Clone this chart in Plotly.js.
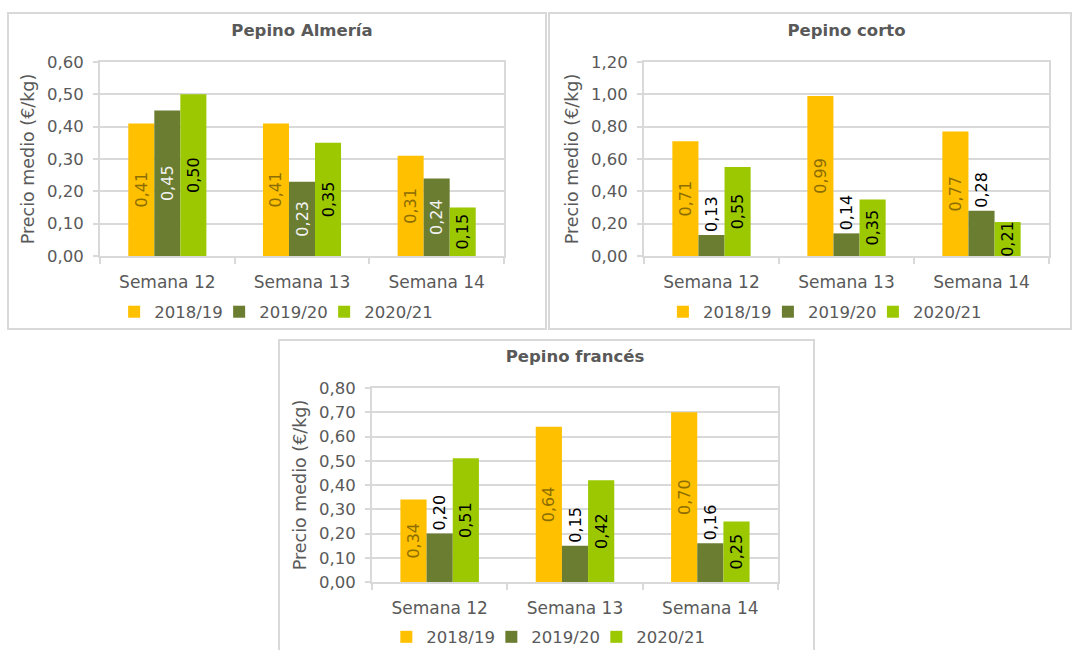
<!DOCTYPE html>
<html>
<head>
<meta charset="utf-8">
<script src="https://cdn.plot.ly/plotly-3.0.1.min.js"></script>
<style>
html,body{margin:0;padding:0;background:#fff;overflow:hidden;width:1073px;height:650px;}
.panel{position:absolute;box-sizing:border-box;border:2px solid #d9d9d9;background:#fff;}
</style>
</head>
<body>
<div id="p1" class="panel" style="left:7px;top:12px;width:540px;height:318px;"></div>
<div id="p2" class="panel" style="left:548px;top:12px;width:524px;height:318px;"></div>
<div id="p3" class="panel" style="left:278px;top:339px;width:537px;height:320px;"></div>
<script>
// ---- data ----
const categories = ["Semana 12", "Semana 13", "Semana 14"];
const seriesNames = ["2018/19", "2019/20", "2020/21"];

const almeria2018 = [0.41, 0.41, 0.31];
const almeria2019 = [0.45, 0.23, 0.24];
const almeria2020 = [0.50, 0.35, 0.15];

const corto2018 = [0.71, 0.99, 0.77];
const corto2019 = [0.13, 0.14, 0.28];
const corto2020 = [0.55, 0.35, 0.21];

const frances2018 = [0.34, 0.64, 0.70];
const frances2019 = [0.20, 0.15, 0.16];
const frances2020 = [0.51, 0.42, 0.25];

const titles = ["Pepino Almería", "Pepino corto", "Pepino francés"];
const yTitle = "Precio medio (€/kg)";

// ---- style ----
const FONT = "DejaVu Sans, Verdana, sans-serif";
const GRAY = "#595959";
const GRID = "#d9d9d9";
const barColors = ["#ffc000", "#6b7d31", "#9bc800"];

function makeTraces(vals, darkOutside) {
  const labelColors = ["#8c6d00", darkOutside ? "#000000" : "#f2f2f2", "#000000"];
  return vals.map((v, i) => ({
    type: "bar",
    name: seriesNames[i],
    x: categories,
    y: v,
    marker: {color: barColors[i], line: {width: 0}},
    texttemplate: "%{y:.2f}",
    textposition: (i === 1 && darkOutside) ? "outside" : "inside",
    insidetextanchor: "middle",
    textangle: -90,
    constraintext: "none",
    cliponaxis: false,
    textfont: {family: FONT, size: 16, color: labelColors[i]},
    hoverinfo: "skip"
  }));
}

function makeLayout(opt) {
  return {
    width: opt.w, height: opt.h,
    margin: {l: opt.l, r: opt.r, t: opt.t, b: opt.b, pad: 0},
    paper_bgcolor: "#fff", plot_bgcolor: "#fff",
    separators: ",.",
    barmode: "group", bargap: 0.42, bargroupgap: 0,
    font: {family: FONT, color: GRAY, size: 16},
    title: {
      text: "<b>" + opt.title + "</b>",
      font: {family: FONT, size: 16.5, color: GRAY},
      x: 0.5, xref: "paper", xanchor: "center",
      y: 1 - opt.titleY / opt.h, yref: "container", yanchor: "middle"
    },
    xaxis: {
      type: "category",
      showline: true, linecolor: GRID, linewidth: 2, mirror: true,
      ticks: "outside", tickson: "boundaries", ticklen: 6, tickcolor: GRID, tickwidth: 2,
      tickfont: {family: FONT, size: 17, color: GRAY},
      ticklabelstandoff: 10,
      showgrid: false, zeroline: false, fixedrange: true
    },
    yaxis: {
      range: [0, opt.ymax], dtick: opt.dtick, tickformat: ".2f",
      showline: true, linecolor: GRID, linewidth: 2, mirror: true,
      ticks: "outside", ticklen: 5, tickcolor: GRID, tickwidth: 2,
      tickfont: {family: FONT, size: 16.5, color: GRAY},
      ticklabelstandoff: 6,
      showgrid: true, gridcolor: GRID, gridwidth: 2,
      zeroline: false, fixedrange: true,
      title: {text: yTitle, font: {family: FONT, size: 17.5, color: GRAY}, standoff: 8}
    },
    showlegend: true,
    legend: {
      orientation: "h",
      xref: "container", yref: "container",
      x: opt.legX, xanchor: "center",
      y: opt.legY, yanchor: "middle",
      font: {family: FONT, size: 16.5, color: GRAY},
      itemwidth: 30, entrywidth: 60,
      traceorder: "normal", itemclick: false, itemdoubleclick: false
    }
  };
}

const config = {displayModeBar: false, staticPlot: true};

function unclipLegend(id) {
  document.querySelectorAll("#" + id + " .legend .scrollbox").forEach(el => el.removeAttribute("clip-path"));
}

Plotly.newPlot("p1", makeTraces([almeria2018, almeria2019, almeria2020], false),
  makeLayout({w: 536, h: 314, l: 91, r: 41, t: 48, b: 72, ymax: 0.6, dtick: 0.1,
    title: titles[0], titleY: 16, legX: 0.49, legY: 0.051}), config).then(() => unclipLegend("p1"));

Plotly.newPlot("p2", makeTraces([corto2018, corto2019, corto2020], true),
  makeLayout({w: 520, h: 314, l: 94, r: 21, t: 48, b: 72, ymax: 1.2, dtick: 0.2,
    title: titles[1], titleY: 16, legX: 0.52, legY: 0.051}), config).then(() => unclipLegend("p2"));

Plotly.newPlot("p3", makeTraces([frances2018, frances2019, frances2020], true),
  makeLayout({w: 533, h: 316, l: 92, r: 35, t: 47, b: 75, ymax: 0.8, dtick: 0.1,
    title: titles[2], titleY: 15, legX: 0.495, legY: 0.063}), config).then(() => unclipLegend("p3"));
</script>
</body>
</html>
